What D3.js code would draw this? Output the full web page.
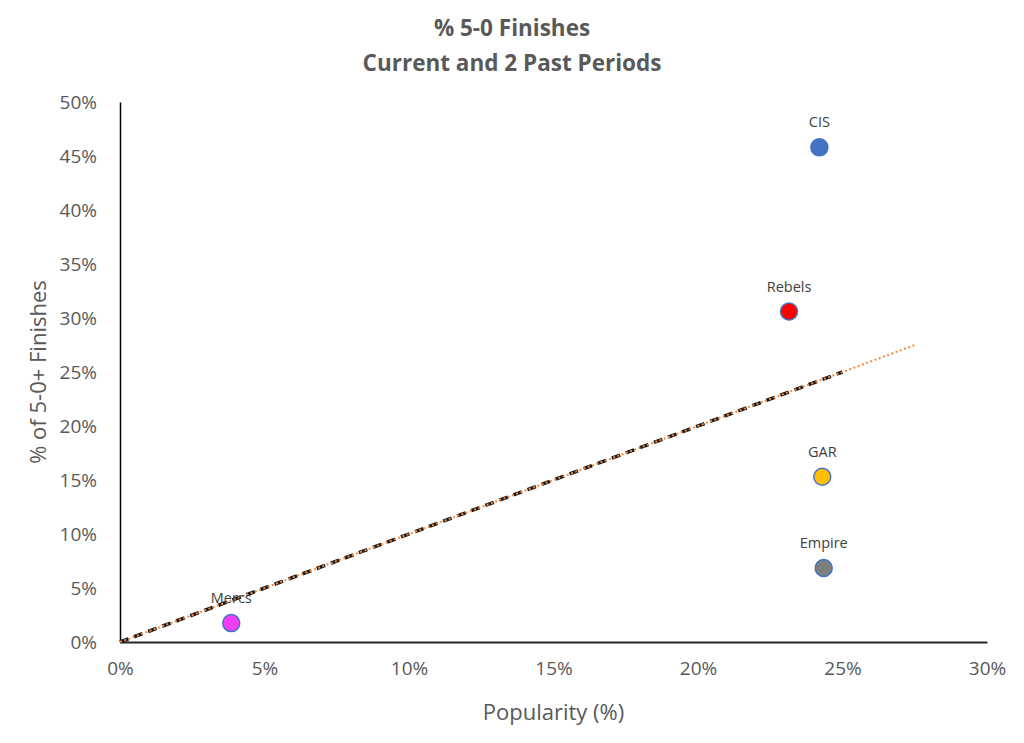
<!DOCTYPE html>
<html lang="en">
<head>
<meta charset="utf-8">
<title>% 5-0 Finishes</title>
<script src="https://cdn.jsdelivr.net/npm/d3@7"></script>
<style>
    body { margin: 0; background: #fff; font-family: "Open Sans", sans-serif; }
    .tick text { fill: #595959; font-size: 19px; font-family: "Open Sans", sans-serif; }
    .title { fill: #595959; font-size: 22.5px; font-weight: bold; text-anchor: middle; }
    .axis-title { fill: #595959; font-size: 22px; text-anchor: middle; }
    .pt-label { fill: #404040; font-size: 14.5px; text-anchor: middle; }
</style>
</head>
<body>
<svg id="chart" width="1024" height="743"></svg>
<script>
    // data
    const factions = ["CIS", "Rebels", "GAR", "Empire", "Mercs"]
    const popularity = [24.2, 23.15, 24.3, 24.35, 3.85]
    const finishes = [45.8, 30.6, 15.3, 6.85, 1.75]
    const fills = ["#4472C4", "#FF0000", "#FFC000", "#7F7F7F", "#F53CF5"]
    const xTicks = [0, 5, 10, 15, 20, 25, 30]
    const yTicks = [0, 5, 10, 15, 20, 25, 30, 35, 40, 45, 50]
    // trend (orange dotted) and reference (black dashed) lines, y = x
    const trend = [[0, 0], [27.5, 27.5]]
    const parity = [[0, 0], [25, 25]]

    const svg = d3.select("#chart")
    const margin = { top: 102, right: 37, bottom: 101, left: 120 }
    const width = 1024 - margin.left - margin.right
    const height = 743 - margin.top - margin.bottom

    const x = d3.scaleLinear().domain([0, 30]).range([margin.left, margin.left + width])
    const y = d3.scaleLinear().domain([0, 50]).range([margin.top + height, margin.top])

    svg.append("text").attr("class", "title").attr("x", 512).attr("y", 36).text("% 5-0 Finishes")
    svg.append("text").attr("class", "title").attr("x", 512).attr("y", 71).text("Current and 2 Past Periods")

    // x axis
    svg.append("g")
        .attr("transform", "translate(0," + y(0) + ")")
        .call(d3.axisBottom(x).tickValues(xTicks).tickSize(0).tickPadding(20).tickFormat(d => d + "%"))
        .call(g => g.select(".domain").attr("stroke", "#262626").attr("stroke-width", 2))

    // y axis
    svg.append("g")
        .attr("transform", "translate(" + x(0) + ",0)")
        .call(d3.axisLeft(y).tickValues(yTicks).tickSize(0).tickPadding(23).tickFormat(d => d + "%"))
        .call(g => g.select(".domain").attr("stroke", "#000").attr("stroke-width", 1.5))

    svg.append("text").attr("class", "axis-title")
        .attr("x", x(15)).attr("y", 720).text("Popularity (%)")
    svg.append("text").attr("class", "axis-title")
        .attr("transform", "translate(46," + y(25) + ") rotate(-90)")
        .text("% of 5-0+ Finishes")

    const line = d3.line().x(d => x(d[0])).y(d => y(d[1]))

    svg.append("path").datum(parity)
        .attr("d", line)
        .attr("fill", "none")
        .attr("stroke", "#1a1a1a")
        .attr("stroke-width", 3.5)
        .attr("stroke-dasharray", "9,6")

    svg.append("path").datum(trend)
        .attr("d", line)
        .attr("fill", "none")
        .attr("stroke", "#F4883A")
        .attr("stroke-width", 2)
        .attr("stroke-dasharray", "2,2.5")

    const pts = factions.map((f, i) => ({ name: f, px: popularity[i], py: finishes[i], fill: fills[i] }))

    svg.selectAll(".pt").data(pts).join("circle")
        .attr("class", "pt")
        .attr("cx", d => x(d.px))
        .attr("cy", d => y(d.py))
        .attr("r", 8.5)
        .attr("fill", d => d.fill)
        .attr("stroke", "#4472C4")
        .attr("stroke-width", 1.5)

    svg.selectAll(".pt-label").data(pts).join("text")
        .attr("class", "pt-label")
        .attr("x", d => x(d.px))
        .attr("y", d => y(d.py) - 20)
        .text(d => d.name)
</script>
</body>
</html>
